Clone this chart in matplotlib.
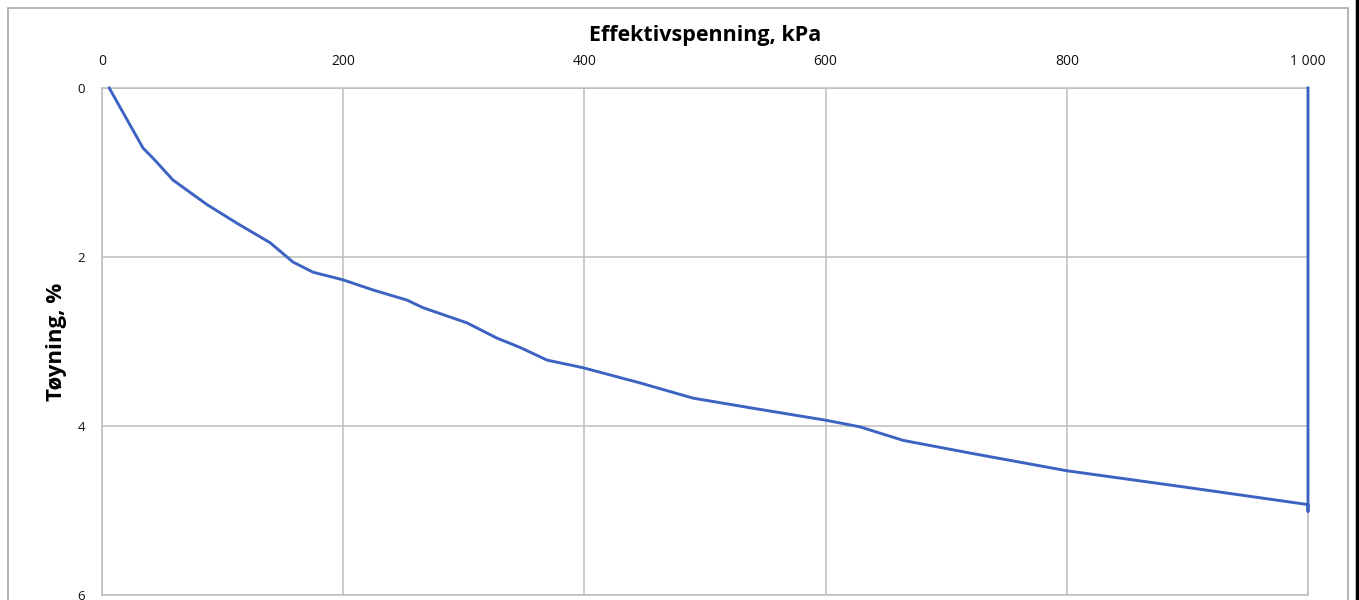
import matplotlib.pyplot as plt
from matplotlib.patches import Rectangle
from matplotlib.lines import Line2D

plt.rcParams['font.family'] = ['Open Sans', 'DejaVu Sans']

# oedometer curve: effective stress (kPa) vs strain (%)
stress = [6, 25.7, 34.0, 42.3, 58.9, 87.1, 111.9, 139.3, 158.4, 175.0, 199.8,
          224.7, 252.9, 266.2, 302.7, 327.5, 346.6, 369.0, 398.8, 446.1, 490.0,
          539.8, 599.5, 628.5, 664.2, 719.7, 800.2, 896.4, 1000, 1000, 1000]
strain = [0.0, 0.50, 0.71, 0.83, 1.09, 1.38, 1.60, 1.83, 2.06, 2.18, 2.27,
          2.39, 2.51, 2.60, 2.78, 2.96, 3.07, 3.22, 3.31, 3.49, 3.67,
          3.79, 3.93, 4.01, 4.17, 4.32, 4.53, 4.72, 4.93, 5.01, 0.0]

x_ticks = [0, 200, 400, 600, 800, 1000]
x_labels = ["0", "200", "400", "600", "800", "1 000"]
y_ticks = [0, 2, 4, 6]

fig = plt.figure(figsize=(13.59, 6), dpi=100)
ax = fig.add_axes([102/1359, 5/600, 1206/1359, 507/600])

ax.plot(stress, strain, color="#3d63c2", linewidth=2.1, solid_joinstyle="round",
        clip_on=False, zorder=4)

ax.set_xlim(0, 1000)
ax.set_ylim(6, 0)
ax.set_xticks(x_ticks)
ax.set_xticklabels(x_labels)
ax.set_yticks(y_ticks)
ax.xaxis.tick_top()
ax.xaxis.set_label_position("top")
ax.tick_params(axis="x", length=0, pad=14, labelsize=10, colors="#111111")
ax.tick_params(axis="y", length=0, pad=12, labelsize=9.5, colors="#111111")

ax.grid(True, color="#bdbdbd", linewidth=1.1)
for s in ax.spines.values():
    s.set_color("#bdbdbd")
    s.set_linewidth(1.1)

ax.set_xlabel("Effektivspenning, kPa", fontsize=15.5, fontweight="bold", labelpad=9)
ax.set_ylabel("Tøyning, %", fontsize=16, fontweight="bold", labelpad=8)

# outer chart border
fig.patches.append(Rectangle((8/1359, -0.1), 1340/1359, 1.1 - 8/600, transform=fig.transFigure,
                             fill=False, edgecolor="#a8a8a8", linewidth=1.2))
fig.lines.append(Line2D([1356.5/1359, 1356.5/1359], [0, 1], transform=fig.transFigure,
                        color="black", linewidth=2.5))

fig.savefig("out.png", dpi=100)
